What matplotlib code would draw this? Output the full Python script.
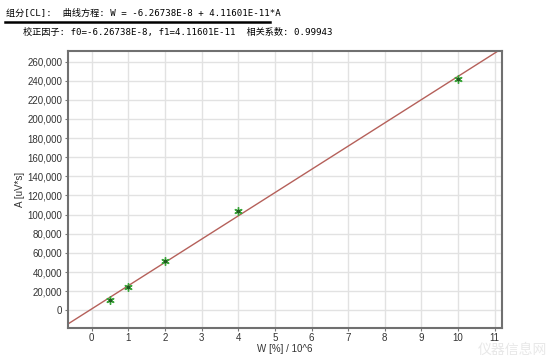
import numpy as np
import matplotlib.pyplot as plt
from matplotlib.ticker import FuncFormatter

# calibration points (W [%]/10^6 vs area A [uV*s])
w_points = [0.5, 1, 2, 4, 10]
a_points = [11200, 24800, 51500, 103800, 242200]

# fitted curve W = f0 + f1*A  (W in 1e-6 units)
f0 = -6.26738e-8
f1 = 4.11601e-11

x_ticks = list(range(0, 12))
y_ticks = list(range(0, 260001, 20000))

header1 = "组分[CL]:  曲线方程: W = -6.26738E-8 + 4.11601E-11*A"
header2 = "校正因子: f0=-6.26738E-8, f1=4.11601E-11  相关系数: 0.99943"

plt.rcParams['font.family'] = ['Liberation Sans', 'Noto Sans CJK SC']

fig = plt.figure(figsize=(5.54, 3.61), dpi=100)
ax = fig.add_axes([68 / 554, 1 - 328 / 361, (502 - 68) / 554, (328 - 51) / 361])

xlim = (-0.65, 11.2)
ylim = (-18500, 271000)

# fitted line across the plot
xs = np.array(xlim)
ys = (xs * 1e-6 - f0) / f1
ax.plot(xs, ys, color='#b5605a', lw=1.0, zorder=2)

ax.plot(w_points, a_points, linestyle='none', marker=(6, 2, 0), markersize=6,
        markeredgecolor='#3aa83a', markeredgewidth=1.0, zorder=3)
ax.plot(w_points, a_points, linestyle='none', marker='o', markersize=1.8,
        color='#1f5a1f', zorder=4)

ax.set_xlim(*xlim)
ax.set_ylim(*ylim)
ax.set_xticks(x_ticks)
ax.set_yticks(y_ticks)
ax.yaxis.set_major_formatter(FuncFormatter(lambda v, p: f"{int(v):,}"))
ax.grid(True, color='#e2e2e2', lw=1.0)
ax.set_axisbelow(True)
ax.tick_params(labelsize=7, length=2, color='#777777', labelcolor='#333333', pad=2)
ax.tick_params(axis='x', pad=1.5)
for sp in ax.spines.values():
    sp.set_color('#707070')
    sp.set_linewidth(1.5)

ax.set_xlabel("W [%] / 10^6", fontsize=7, color='#333333', labelpad=1)
ax.set_ylabel("A [uV*s]", fontsize=7, color='#333333', labelpad=2)

mono = ['DejaVu Sans Mono', 'Noto Sans CJK SC']
fig.text(6 / 554, 1 - 13 / 361, header1, fontsize=6.6, family=mono, va='center', ha='left')
fig.add_artist(plt.Line2D([5 / 554, 270 / 554], [1 - 22 / 361, 1 - 22 / 361],
                          color='black', lw=1.8))
fig.text(23 / 554, 1 - 32 / 361, header2, fontsize=6.6, family=mono, va='center', ha='left')

# faint watermark
fig.text(478 / 554, 1 - 350 / 361, "仪器信息网", fontsize=10, color='#e8e8e8',
         ha='left', va='center', family=['Noto Sans CJK SC'])

fig.savefig("out.png", dpi=100)
